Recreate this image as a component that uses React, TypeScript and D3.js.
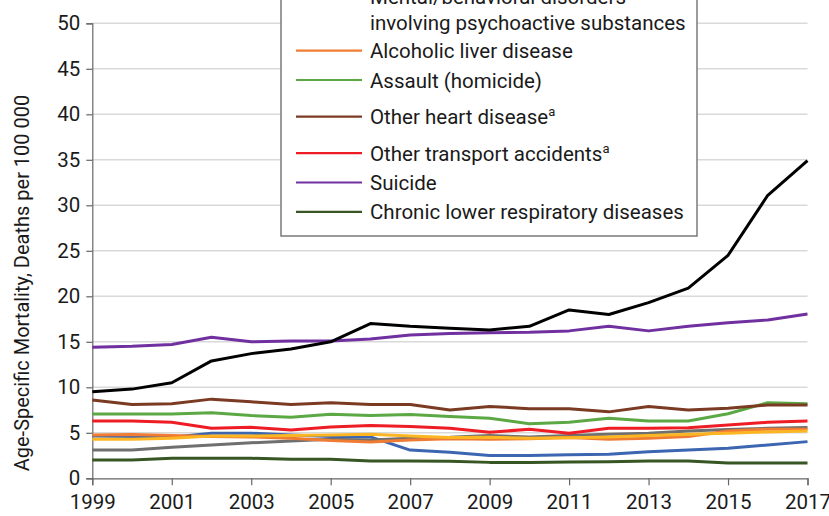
import React, { useEffect, useRef } from 'react'
import * as d3 from 'd3'

const years = d3.range(1999, 2018)
const yTicks = [0, 5, 10, 15, 20, 25, 30, 35, 40, 45, 50]
const xTicks = [1999, 2001, 2003, 2005, 2007, 2009, 2011, 2013, 2015, 2017]

const overdose = [9.5, 9.8, 10.5, 12.9, 13.7, 14.2, 15.0, 17.0, 16.7, 16.5, 16.3, 16.7, 18.5, 18.0, 19.3, 20.9, 24.5, 31.1, 34.9]
const suicide = [14.4, 14.5, 14.7, 15.5, 15.0, 15.1, 15.1, 15.3, 15.75, 15.9, 16.0, 16.05, 16.2, 16.7, 16.2, 16.7, 17.1, 17.4, 18.05]
const heart = [8.6, 8.1, 8.2, 8.7, 8.4, 8.1, 8.3, 8.1, 8.1, 7.5, 7.9, 7.65, 7.65, 7.3, 7.9, 7.5, 7.7, 8.05, 8.05]
const assault = [7.07, 7.07, 7.07, 7.2, 6.9, 6.7, 7.05, 6.9, 7.0, 6.8, 6.6, 6.0, 6.15, 6.6, 6.3, 6.3, 7.1, 8.3, 8.2]
const transport = [6.3, 6.3, 6.15, 5.5, 5.6, 5.3, 5.65, 5.8, 5.7, 5.5, 5.05, 5.4, 4.95, 5.5, 5.5, 5.55, 5.85, 6.15, 6.3]
const liver = [4.76, 4.8, 4.7, 4.6, 4.55, 4.4, 4.15, 4.0, 4.2, 4.35, 4.3, 4.35, 4.47, 4.3, 4.4, 4.58, 5.2, 5.4, 5.4]
const blueSeries = [4.65, 4.58, 4.5, 4.95, 4.95, 4.76, 4.6, 4.55, 3.1, 2.86, 2.5, 2.5, 2.6, 2.64, 2.93, 3.1, 3.3, 3.66, 4.03]
const yellowSeries = [4.3, 4.3, 4.4, 4.65, 4.65, 4.7, 4.76, 4.83, 4.65, 4.47, 4.5, 4.4, 4.45, 4.54, 4.7, 4.83, 4.95, 5.1, 5.2]
const graySeries = [3.1, 3.1, 3.4, 3.66, 3.9, 4.1, 4.3, 4.2, 4.4, 4.5, 4.7, 4.54, 4.7, 4.83, 4.95, 5.2, 5.35, 5.5, 5.57]
const respiratory = [2.0, 2.0, 2.2, 2.2, 2.2, 2.1, 2.1, 1.9, 1.9, 1.87, 1.75, 1.75, 1.78, 1.83, 1.9, 1.9, 1.68, 1.68, 1.68]

// drawn bottom to top
const series = [
  { values: respiratory, color: '#375623' },
  { values: blueSeries, color: '#3c66b1' },
  { values: graySeries, color: '#6f6f6f' },
  { values: liver, color: '#f07c33' },
  { values: yellowSeries, color: '#fcb623' },
  { values: transport, color: '#ee1c25' },
  { values: assault, color: '#5ba845' },
  { values: heart, color: '#7b3a22' },
  { values: suicide, color: '#7030a0' },
  { values: overdose, color: '#000000' },
]

const legendItems = [
  { label: 'Alcoholic liver disease', color: '#f07c33', sup: false },
  { label: 'Assault (homicide)', color: '#5ba845', sup: false },
  { label: 'Other heart disease', color: '#7b3a22', sup: true },
  { label: 'Other transport accidents', color: '#ee1c25', sup: true },
  { label: 'Suicide', color: '#7030a0', sup: false },
  { label: 'Chronic lower respiratory diseases', color: '#375623', sup: false },
]

const W = 829
const H = 516
const font = 'Roboto, "Open Sans", sans-serif'

export default function App() {
  const ref = useRef<SVGSVGElement>(null)

  useEffect(() => {
    const svg = d3.select(ref.current)
    svg.selectAll('*').remove()

    const x = d3.scaleLinear().domain([1999, 2017]).range([92.3, 807.5])
    const y = d3.scaleLinear().domain([0, 50]).range([478.3, 23.3])

    // gridlines
    svg.append('g')
      .selectAll('line')
      .data(yTicks.filter(d => d > 0))
      .join('line')
      .attr('x1', x(1999)).attr('x2', x(2017))
      .attr('y1', d => y(d)).attr('y2', d => y(d))
      .attr('stroke', '#d9d9d9').attr('stroke-width', 1.6)

    const yAxis = d3.axisLeft(y).tickValues(yTicks).tickSize(6).tickPadding(6)
    const gy = svg.append('g').attr('transform', `translate(${x(1999)},0)`).call(yAxis)
    const xAxis = d3.axisBottom(x).tickValues(xTicks).tickFormat(d3.format('d')).tickSize(7).tickPadding(9)
    const gx = svg.append('g').attr('transform', `translate(0,${y(0)})`).call(xAxis)
    for (const g of [gx, gy]) {
      g.select('.domain').attr('stroke', '#666').attr('stroke-width', 1.2)
      g.selectAll('.tick line').attr('stroke', '#666').attr('stroke-width', 1.2)
      g.selectAll('.tick text').attr('fill', '#1a1a1a').style('font-family', font).style('font-size', '20.5px')
    }

    svg.append('text')
      .attr('transform', `translate(29,${283}) rotate(-90)`)
      .attr('text-anchor', 'middle')
      .style('font-family', font).style('font-size', '20px').attr('fill', '#1a1a1a')
      .text('Age-Specific Mortality, Deaths per 100 000')

    const line = d3.line<number>().x((_, i) => x(years[i])).y(d => y(d))
    svg.append('g')
      .selectAll('path')
      .data(series)
      .join('path')
      .attr('d', d => line(d.values))
      .attr('fill', 'none')
      .attr('stroke', d => d.color)
      .attr('stroke-width', 3)
      .attr('stroke-linejoin', 'round')

    // legend (top cut off, as in the original)
    const lg = svg.append('g')
    lg.append('rect')
      .attr('x', 281).attr('y', -60).attr('width', 416).attr('height', 296)
      .attr('fill', '#fff').attr('stroke', '#7a7a7a').attr('stroke-width', 1.5)
    lg.append('text').attr('x', 370).attr('y', 4)
      .style('font-family', font).style('font-size', '20.5px').attr('fill', '#1a1a1a')
      .text('Mental/behavioral disorders')
    lg.append('text').attr('x', 370).attr('y', 30)
      .style('font-family', font).style('font-size', '20.5px').attr('fill', '#1a1a1a')
      .text('involving psychoactive substances')
    let ly = 50.7
    legendItems.forEach((item, i) => {
      if (i > 0) ly += 29.3 + (item.sup ? 7.3 : 0)
      lg.append('line')
        .attr('x1', 296).attr('x2', 362).attr('y1', ly).attr('y2', ly)
        .attr('stroke', item.color).attr('stroke-width', 2.2)
      const t = lg.append('text').attr('x', 370).attr('y', ly + 7.5)
        .style('font-family', font).style('font-size', '20.5px').attr('fill', '#1a1a1a')
        .text(item.label)
      if (item.sup) {
        t.append('tspan').attr('dy', -8).style('font-size', '13px').text('a')
      }
    })
  }, [])

  return (
    <svg ref={ref} width={W} height={H} style={{ position: 'absolute', left: 0, top: 0, background: '#fff' }} />
  )
}
